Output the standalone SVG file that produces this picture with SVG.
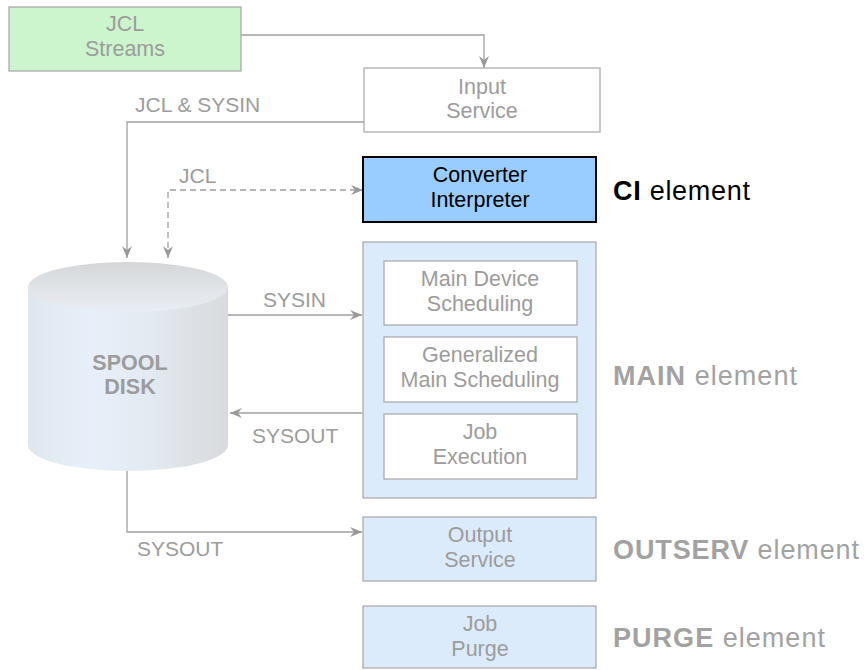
<svg xmlns="http://www.w3.org/2000/svg" width="866" height="670" viewBox="0 0 866 670">
  <defs>
    <style>
      .t { font-family: "Liberation Sans", Arial, sans-serif; font-size: 21.5px; text-anchor: middle; fill: #9c9c9c; }
      .lbl { font-family: "Liberation Sans", Arial, sans-serif; font-size: 21px; fill: #9c9c9c; }
      .el { font-family: "Liberation Sans", Arial, sans-serif; font-size: 27px; fill: #a2a2a2; }
      .b { font-weight: bold; }
      .faded { stroke: #a6a6a6; stroke-width: 1.2; }
      .blue { fill: #dcebfb; }
      .white { fill: #ffffff; }
      .conn { fill: none; stroke: #a0a0a0; stroke-width: 1.3; }
      .dash { stroke-dasharray: 6 4; }
    </style>
    <marker id="arr" viewBox="0 0 12 10" refX="12" refY="5" markerWidth="12" markerHeight="10" markerUnits="userSpaceOnUse" orient="auto-start-reverse">
      <path d="M0,0 L12,5 L0,10 L4,5 z" fill="#999999"/>
    </marker>
    <linearGradient id="cylBody" x1="0" y1="0" x2="1" y2="0">
      <stop offset="0" stop-color="#dfe6ee"/>
      <stop offset="0.3" stop-color="#e7f0fa"/>
      <stop offset="0.6" stop-color="#e3eaf1"/>
      <stop offset="1" stop-color="#d8dadd"/>
    </linearGradient>
    <linearGradient id="cylTop" x1="0" y1="0" x2="0" y2="1">
      <stop offset="0" stop-color="#d4d6d8"/>
      <stop offset="0.5" stop-color="#e1e4e7"/>
      <stop offset="1" stop-color="#e8eef5"/>
    </linearGradient>
  </defs>

  <!-- connectors and their labels -->
  <g id="connectors">
    <polyline class="conn" points="241,35 484,35 484,68" marker-end="url(#arr)"/>
    <polyline class="conn" points="364,122 127,122 127,258" marker-end="url(#arr)"/>
    <polyline class="conn dash" points="168,258 168,190 363,190" marker-start="url(#arr)" marker-end="url(#arr)"/>
    <line class="conn" x1="228" y1="315" x2="362" y2="315" marker-end="url(#arr)"/>
    <line class="conn" x1="362" y1="413" x2="230" y2="413" marker-end="url(#arr)"/>
    <polyline class="conn" points="127,470 127,532 362,532" marker-end="url(#arr)"/>
    <text class="lbl" x="135" y="112">JCL &amp; SYSIN</text>
    <text class="lbl" x="179" y="183">JCL</text>
    <text class="lbl" x="263" y="307">SYSIN</text>
    <text class="lbl" x="252" y="443">SYSOUT</text>
    <text class="lbl" x="137" y="556">SYSOUT</text>
  </g>

  <g id="jcl-streams">
    <rect x="9" y="7" width="232" height="64" fill="#cdf5cd" class="faded"/>
    <text class="t" x="125" y="31">JCL</text>
    <text class="t" x="125" y="56">Streams</text>
  </g>

  <g id="input-service">
    <rect x="364" y="68" width="236" height="64" fill="#ffffff" class="faded"/>
    <text class="t" x="482" y="94">Input</text>
    <text class="t" x="482" y="118">Service</text>
  </g>

  <g id="converter-interpreter">
    <rect x="363" y="157" width="233" height="65" fill="#99ccff" stroke="#000000" stroke-width="2"/>
    <text class="t" x="480" y="182" style="fill:#000000">Converter</text>
    <text class="t" x="480" y="207" style="fill:#000000">Interpreter</text>
  </g>

  <g id="spool-disk">
    <path d="M28,287 L28,445 A100,26 0 0 0 228,445 L228,287 Z" fill="url(#cylBody)"/>
    <ellipse cx="128" cy="287" rx="100" ry="25" fill="url(#cylTop)"/>
    <text class="t b" x="130" y="370">SPOOL</text>
    <text class="t b" x="130" y="394">DISK</text>
  </g>

  <g id="main">
    <rect x="363" y="242" width="233" height="256" class="faded blue"/>
    <g id="main-device-scheduling">
      <rect x="384" y="261" width="193" height="64" class="faded white"/>
      <text class="t" x="480" y="286">Main Device</text>
      <text class="t" x="480" y="311">Scheduling</text>
    </g>
    <g id="generalized-main-scheduling">
      <rect x="384" y="337" width="193" height="65" class="faded white"/>
      <text class="t" x="480" y="362">Generalized</text>
      <text class="t" x="480" y="387">Main Scheduling</text>
    </g>
    <g id="job-execution">
      <rect x="384" y="414" width="193" height="65" class="faded white"/>
      <text class="t" x="480" y="439">Job</text>
      <text class="t" x="480" y="464">Execution</text>
    </g>
  </g>

  <g id="output-service">
    <rect x="363" y="517" width="233" height="64" class="faded blue"/>
    <text class="t" x="480" y="542">Output</text>
    <text class="t" x="480" y="567">Service</text>
  </g>

  <g id="job-purge">
    <rect x="363" y="606" width="233" height="62" class="faded blue"/>
    <text class="t" x="480" y="631">Job</text>
    <text class="t" x="480" y="656">Purge</text>
  </g>

  <!-- element captions -->
  <g id="captions">
    <text class="el" x="613" y="200" textLength="137" style="fill:#000000"><tspan class="b">CI</tspan> element</text>
    <text class="el" x="613" y="385" textLength="184"><tspan class="b">MAIN</tspan> element</text>
    <text class="el" x="613" y="559" textLength="246"><tspan class="b">OUTSERV</tspan> element</text>
    <text class="el" x="613" y="647" textLength="212"><tspan class="b">PURGE</tspan> element</text>
  </g>
</svg>
